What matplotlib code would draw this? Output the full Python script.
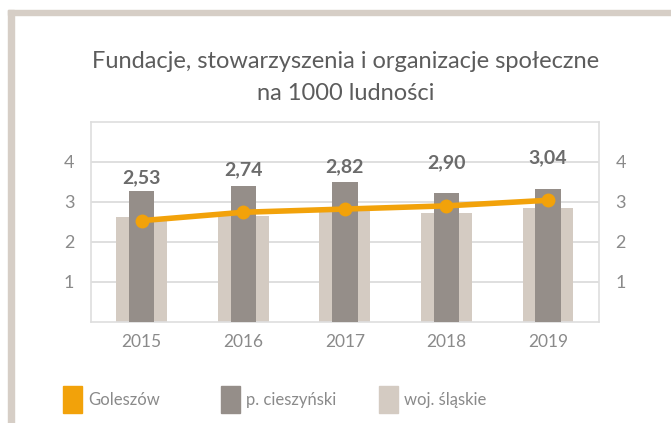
import numpy as np
import matplotlib
matplotlib.use("Agg")
import matplotlib.pyplot as plt
from matplotlib.patches import Rectangle

plt.rcParams['font.family'] = ['Lato', 'DejaVu Sans']

years = ["2015", "2016", "2017", "2018", "2019"]
goleszow = [2.53, 2.74, 2.82, 2.90, 3.04]
powiat = [3.27, 3.41, 3.49, 3.23, 3.31]
wojewodztwo = [2.61, 2.65, 2.79, 2.73, 2.85]
value_labels = ["2,53", "2,74", "2,82", "2,90", "3,04"]
legend_names = ["Goleszów", "p. cieszyński", "woj. śląskie"]

c_orange = "#f2a20a"
c_dark = "#958e89"
c_light = "#d4cbc2"
c_frame = "#d6cec6"
c_grid = "#d9d9d9"
c_text = "#8a8a8a"
c_title = "#5c5c5c"

fig = plt.figure(figsize=(6.71, 4.23), dpi=100)
W, H = 671, 423

# outer frame (top and left edges)
fig.patches.append(Rectangle((8 / W, 1 - 15 / H), (663) / W, 5 / H,
                             transform=fig.transFigure, color=c_frame, zorder=0))
fig.patches.append(Rectangle((8 / W, 0), 6 / W, 1 - 10 / H,
                             transform=fig.transFigure, color=c_frame, zorder=0))

ax = fig.add_axes([91 / W, 1 - 321.7 / H, 507.7 / W, 199.7 / H])
x = np.arange(len(years))

ax.bar(x, wojewodztwo, width=0.5, color=c_light, zorder=2)
ax.bar(x, powiat, width=0.25, color=c_dark, zorder=3)
ax.plot(x, goleszow, color=c_orange, lw=4, marker="o", ms=9, zorder=4)

for xi, v, lab in zip(x, goleszow, value_labels):
    ax.text(xi, v + 1.07, lab, ha="center", va="center", fontsize=14,
            fontweight="bold", color="#6b6b6b", zorder=5)

ax.set_xlim(-0.5, 4.5)
ax.set_ylim(0, 5)
ax.set_yticks([1, 2, 3, 4])
ax.set_yticklabels(["1", "2", "3", "4"])
ax.set_xticks(x)
ax.set_xticklabels(years)
ax.tick_params(axis="y", length=0, labelsize=13, labelcolor=c_text, pad=12,
               labelright=True)
ax.tick_params(axis="x", length=0, labelsize=12.5, labelcolor=c_text, pad=9)
ax.grid(axis="y", color=c_grid, lw=1.2, zorder=0)
ax.set_axisbelow(True)
for s in ax.spines.values():
    s.set_color("#dedede")
    s.set_linewidth(1.2)

fig.text(346 / W, 1 - 61 / H, "Fundacje, stowarzyszenia i organizacje społeczne",
         ha="center", va="center", fontsize=17, color=c_title)
fig.text(346 / W, 1 - 93 / H, "na 1000 ludności",
         ha="center", va="center", fontsize=17, color=c_title)

# legend
leg_x = [63, 221, 379]
for lx, name, col in zip(leg_x, legend_names, [c_orange, c_dark, c_light]):
    fig.patches.append(Rectangle((lx / W, 1 - 412.7 / H), 19 / W, 27 / H,
                                 transform=fig.transFigure, color=col))
    fig.text((lx + 25) / W, 1 - 400 / H, name, ha="left", va="center",
             fontsize=12, color=c_text)

fig.savefig("out.png", dpi=100)
